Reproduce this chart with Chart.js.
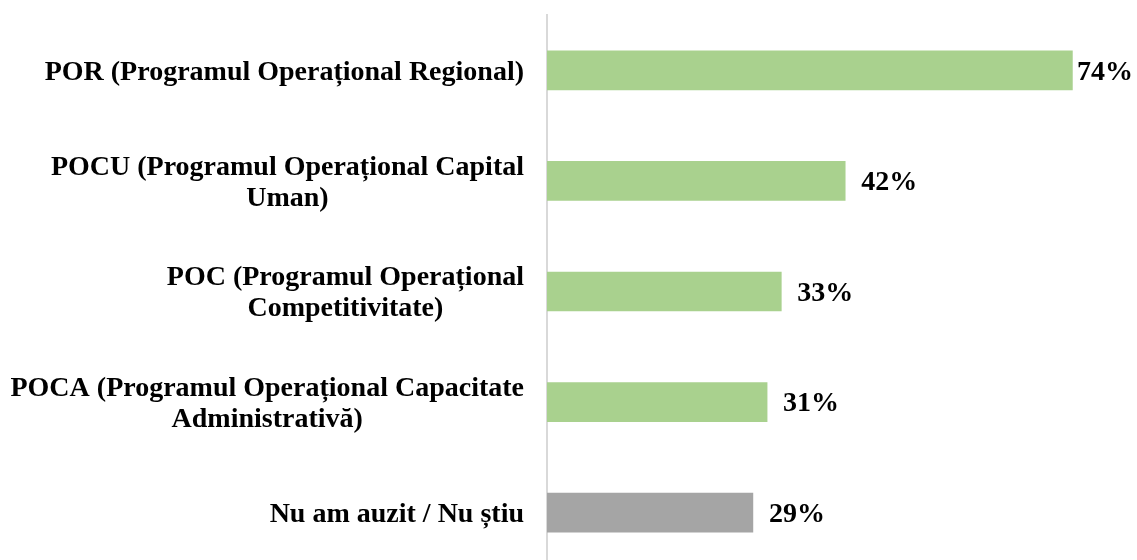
<!DOCTYPE html>
<html>
<head>
<meta charset="utf-8">
<script src="https://cdn.jsdelivr.net/npm/chart.js@4"></script>
<style>
html,body{margin:0;padding:0;background:#fff;overflow:hidden;}
#wrap{width:1137px;height:570px;}
</style>
</head>
<body>
<div id="wrap"><canvas id="c" width="1137" height="570"></canvas></div>
<script>
const categories = [
  ["POR (Programul Operațional Regional)"],
  ["POCU (Programul Operațional Capital", "Uman)"],
  ["POC (Programul Operațional", "Competitivitate)"],
  ["POCA (Programul Operațional Capacitate", "Administrativă)"],
  ["Nu am auzit / Nu știu"]
];
const values = [74, 42, 33, 31, 29];
const barColors = ["#A9D18E", "#A9D18E", "#A9D18E", "#A9D18E", "#A5A5A5"];

const FONT = 'bold 28px "Liberation Serif", "Times New Roman", serif';

const labelPlugin = {
  id: 'labelPlugin',
  afterDraw(chart) {
    const ctx = chart.ctx;
    const yScale = chart.scales.y;
    ctx.save();
    ctx.font = FONT;
    ctx.fillStyle = '#000';
    ctx.textBaseline = 'middle';
    ctx.textAlign = 'center';
    const rightEdge = 524;
    const lh = 31;
    categories.forEach((lines, i) => {
      const cy = yScale.getPixelForValue(i) + 2;
      let widest = 0;
      lines.forEach(l => { widest = Math.max(widest, ctx.measureText(l).width); });
      const cx = rightEdge - widest / 2;
      const y0 = cy - (lines.length - 1) * lh / 2;
      lines.forEach((l, k) => ctx.fillText(l, cx, y0 + k * lh));
    });
    // value labels
    ctx.textAlign = 'left';
    const meta = chart.getDatasetMeta(0);
    meta.data.forEach((bar, i) => {
      const txt = values[i] + '%';
      const w = ctx.measureText(txt).width;
      let x = bar.x + 16;
      if (x + w > chart.width - 4) x = chart.width - 4 - w;
      ctx.fillText(txt, x, bar.y + 2);
    });
    ctx.restore();
  }
};

new Chart(document.getElementById('c'), {
  type: 'bar',
  data: {
    labels: categories,
    datasets: [{
      data: values,
      backgroundColor: barColors,
      borderWidth: 0,
      barThickness: 39
    }]
  },
  options: {
    indexAxis: 'y',
    responsive: false,
    animation: false,
    events: [],
    layout: { padding: { top: 15, bottom: 2, left: 0, right: 22 } },
    plugins: { legend: { display: false }, tooltip: { enabled: false } },
    scales: {
      x: { display: false, min: 0, max: 80 },
      y: {
        afterFit(s) { s.width = 547; },
        ticks: { display: false },
        grid: { display: false },
        border: { display: true, color: '#D9D9D9', width: 2 }
      }
    }
  },
  plugins: [labelPlugin]
});
</script>
</body>
</html>
